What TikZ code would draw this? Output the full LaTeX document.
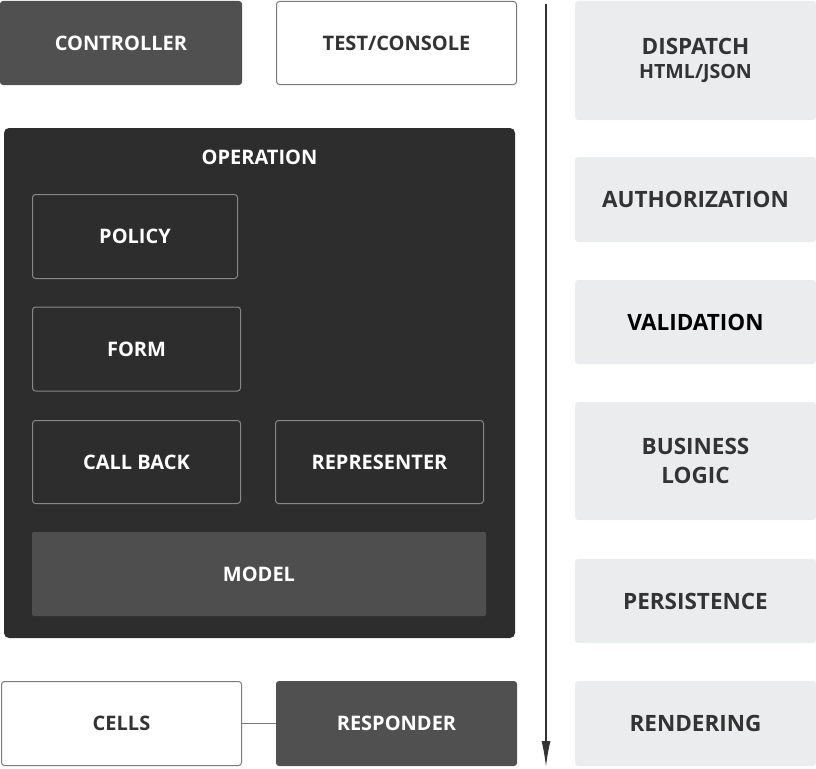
\documentclass[tikz,border=0pt]{standalone}
\usepackage{fontspec}
\setmainfont{Open Sans}
\usepackage{tikz}
\usetikzlibrary{arrows.meta, positioning}
\definecolor{darkbox}{HTML}{505050}
\definecolor{opfill}{HTML}{2D2D2D}
\definecolor{modelfill}{HTML}{4E4E4E}
\definecolor{lightbox}{HTML}{EBECEE}
\definecolor{textdark}{HTML}{333333}
\definecolor{edgegrey}{HTML}{7A7A7A}
\begin{document}
\begin{tikzpicture}[x=1pt, y=-1pt,
                every node/.style={font=\bfseries\fontsize{20}{27}\selectfont, align=center, inner sep=0pt},
                darknode/.style={fill=darkbox, text=white, rounded corners=3pt},
                whitenode/.style={fill=white, draw=edgegrey, line width=1pt, text=textdark, rounded corners=3pt},
                innernode/.style={draw=edgegrey!90!white, line width=1pt, text=white, rounded corners=3pt},
                stagenode/.style={fill=lightbox, text=textdark, rounded corners=3pt,
                  minimum width=241pt, font=\bfseries\fontsize{22.5}{28.5}\selectfont},
              ]
              \useasboundingbox (0,0) rectangle (816,768);
              % top row
              \node [darknode, minimum width=242pt, minimum height=84pt] at (121,43) (ctrl) {CONTROLLER};
              \node [whitenode, minimum width=240pt, minimum height=83pt] at (396.5,43) (test) {TEST/CONSOLE};

              % operation block
              \node [fill=opfill, rounded corners=5pt, minimum width=511pt, minimum height=510pt] at (259.5,383) (op) {};
              \node [text=white] at (259.5,157) (optitle) {OPERATION};
              \node [innernode, minimum width=205pt, minimum height=84pt] at (135,236.5) (policy) {POLICY};
              \node [innernode, minimum width=208pt, minimum height=84pt] at (136.5,349) (form) {FORM};
              \node [innernode, minimum width=208pt, minimum height=83pt] at (136.5,462) (callback) {CALL BACK};
              \node [innernode, minimum width=208pt, minimum height=83pt] at (379.5,462) (repr) {REPRESENTER};
              \node [fill=modelfill, text=white, rounded corners=2pt, minimum width=454pt, minimum height=84pt] at (259,574) (model) {MODEL};

              % bottom row
              \node [whitenode, minimum width=240pt, minimum height=84pt] at (121.5,723.5) (cells) {CELLS};
              \node [darknode, minimum width=241pt, minimum height=85pt] at (396.5,723.5) (resp) {RESPONDER};
              \draw [edgegrey, line width=1.2pt] (cells) -- (resp);

              % flow arrow
              \coordinate (flowtop) at (546,4);
              \coordinate (flowend) at (546,767);
              \draw [textdark, line width=1.4pt, -{Latex[length=26pt, width=9pt]}] (flowtop) -- (flowend);

              % stages
              \node [stagenode, minimum height=119pt] at (695.5,60.5) (dispatch) {DISPATCH\\[-5pt]{\fontsize{19.6}{22}\selectfont HTML/JSON}};
              \node [stagenode, minimum height=85pt] at (695.5,199.5) (auth) {AUTHORIZATION};
              \node [stagenode, minimum height=84pt, text=black] at (695.5,322) (valid) {VALIDATION};
              \node [stagenode, minimum height=118pt] at (695.5,461) (logic) {BUSINESS\\LOGIC};
              \node [stagenode, minimum height=84pt] at (695.5,601) (persist) {PERSISTENCE};
              \node [stagenode, minimum height=85pt] at (695.5,723.5) (render) {RENDERING};
\end{tikzpicture}
\end{document}
